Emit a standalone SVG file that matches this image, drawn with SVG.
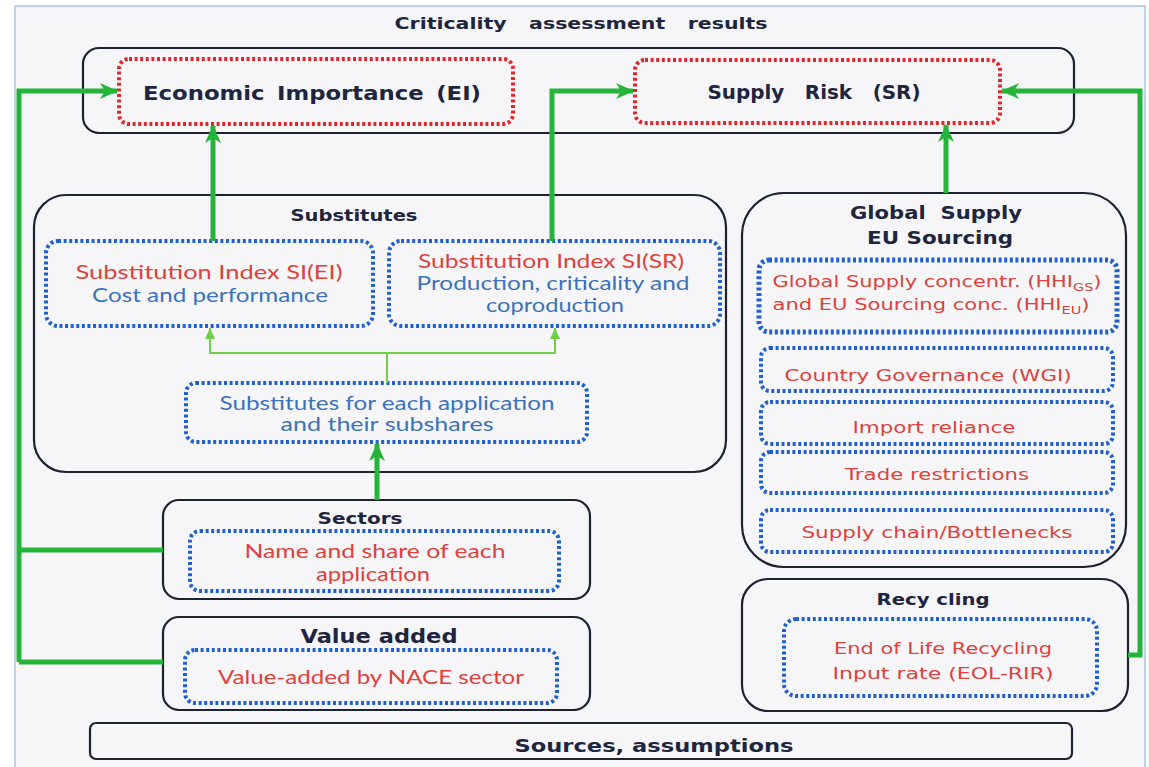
<svg xmlns="http://www.w3.org/2000/svg" width="1149" height="767" viewBox="0 0 1149 767">
<style>
.frame{fill:#f6f6f8;stroke:#a9c3e3;stroke-width:1.5}
.box{fill:none;stroke:#1d2233;stroke-width:2.2}
.red{fill:none;stroke:#e3262a;stroke-width:4;stroke-dasharray:3 2.6}
.blue{fill:none;stroke:#1f5fd0;stroke-width:4;stroke-dasharray:3 2.6}
text{text-anchor:middle}
.ttl{font-family:"DejaVu Sans",Verdana,sans-serif;font-weight:bold;fill:#1e2540}
.tr{font-family:"DejaVu Sans",Verdana,sans-serif;fill:#e0403a;font-size:16px}
.cr{font-family:Lato,"Liberation Sans",sans-serif;fill:#e0403a;font-size:19px}
.cb{font-family:Lato,"Liberation Sans",sans-serif;fill:#3a72bd;font-size:19px}
.g{fill:none;stroke:#25b43a;stroke-width:5}
.gt{fill:none;stroke:#6dd046;stroke-width:2}
</style>
<defs>
<marker id="ah" markerUnits="userSpaceOnUse" markerWidth="19" markerHeight="18" refX="17" refY="9" orient="auto">
<path d="M0,1 L18,9 L0,17 L5,9 Z" fill="#25b43a"/>
</marker>
<marker id="ahs" markerUnits="userSpaceOnUse" markerWidth="12" markerHeight="12" refX="11" refY="6" orient="auto">
<path d="M0,1 L11,6 L0,11 Z" fill="#6dd046"/>
</marker>
</defs>
<rect class="frame" x="15" y="6" width="1130" height="766"/>
<text class="ttl" x="581" y="29" font-size="16" word-spacing="12" textLength="373" lengthAdjust="spacingAndGlyphs">Criticality assessment results</text>

<g id="results">
<rect class="box" x="83" y="48" width="991" height="85" rx="16"/>
</g>
<g id="ei">
<rect class="red" x="119" y="59" width="394" height="65" rx="10"/>
<text class="ttl" x="312" y="100" font-size="20" word-spacing="4" textLength="338" lengthAdjust="spacingAndGlyphs">Economic Importance (EI)</text>
</g>
<g id="sr">
<rect class="red" x="635" y="60" width="365" height="63" rx="10"/>
<text class="ttl" x="814" y="99" font-size="19" word-spacing="13" textLength="213" lengthAdjust="spacingAndGlyphs">Supply Risk (SR)</text>
</g>

<g id="substitutes">
<rect class="box" x="34" y="195" width="692" height="277" rx="32"/>
<text class="ttl" x="354" y="221" font-size="15.5" textLength="127" lengthAdjust="spacingAndGlyphs">Substitutes</text>
</g>
<g id="si-ei">
<rect class="blue" x="46" y="241" width="327" height="85" rx="12"/>
<text class="cr" x="209" y="279" textLength="267" lengthAdjust="spacingAndGlyphs">Substitution Index SI(EI)</text>
<text class="cb" x="210" y="302" textLength="236" lengthAdjust="spacingAndGlyphs">Cost and performance</text>
</g>
<g id="si-sr">
<rect class="blue" x="389" y="241" width="331" height="85" rx="12"/>
<text class="cr" x="551" y="268" textLength="266" lengthAdjust="spacingAndGlyphs">Substitution Index SI(SR)</text>
<text class="cb" x="553" y="290" textLength="273" lengthAdjust="spacingAndGlyphs">Production, criticality  and</text>
<text class="cb" x="555" y="312" textLength="138" lengthAdjust="spacingAndGlyphs">coproduction</text>
</g>
<g id="subs-app">
<rect class="blue" x="186" y="383" width="401" height="59" rx="10"/>
<text class="cb" x="387" y="410" textLength="335" lengthAdjust="spacingAndGlyphs">Substitutes for each application</text>
<text class="cb" x="387" y="431" textLength="213" lengthAdjust="spacingAndGlyphs">and their subshares</text>
</g>

<g id="sectors">
<rect class="box" x="163" y="500" width="427" height="99" rx="16"/>
<text class="ttl" x="360" y="524" font-size="15.5" textLength="85" lengthAdjust="spacingAndGlyphs">Sectors</text>
<rect class="blue" x="190" y="531" width="369" height="60" rx="10"/>
<text class="cr" x="375" y="558" textLength="261" lengthAdjust="spacingAndGlyphs">Name and share of each</text>
<text class="cr" x="373" y="581" textLength="114" lengthAdjust="spacingAndGlyphs">application</text>
</g>

<g id="value-added">
<rect class="box" x="163" y="617" width="427" height="93" rx="16"/>
<text class="ttl" x="379" y="643" font-size="19" textLength="157" lengthAdjust="spacingAndGlyphs">Value added</text>
<rect class="blue" x="185" y="650" width="372" height="53" rx="10"/>
<text class="cr" x="371" y="684" textLength="306" lengthAdjust="spacingAndGlyphs">Value-added by NACE sector</text>
</g>

<g id="sources">
<rect class="box" x="90" y="723" width="982" height="36" rx="6"/>
<text class="ttl" x="654" y="752" font-size="18" textLength="279" lengthAdjust="spacingAndGlyphs">Sources, assumptions</text>
</g>

<g id="global-supply">
<rect class="box" x="742" y="193" width="384" height="374" rx="42"/>
<text class="ttl" x="936" y="219" font-size="17" word-spacing="6" textLength="172" lengthAdjust="spacingAndGlyphs">Global Supply</text>
<text class="ttl" x="940" y="244" font-size="17" textLength="146" lengthAdjust="spacingAndGlyphs">EU Sourcing</text>
</g>
<g id="hhi">
<rect class="blue" x="759" y="260" width="358" height="72" rx="10" style="stroke-width:5"/>
<text class="tr" x="937" y="287" textLength="329" lengthAdjust="spacingAndGlyphs">Global Supply concentr. (HHI<tspan font-size="11" dy="4">GS</tspan><tspan dy="-4">)</tspan></text>
<text class="tr" x="931" y="310" textLength="317" lengthAdjust="spacingAndGlyphs">and EU Sourcing conc. (HHI<tspan font-size="11" dy="4">EU</tspan><tspan dy="-4">)</tspan></text>
</g>
<g id="wgi">
<rect class="blue" x="761" y="348" width="352" height="43" rx="9"/>
<text class="tr" x="928" y="381" textLength="287" lengthAdjust="spacingAndGlyphs">Country Governance (WGI)</text>
</g>
<g id="import">
<rect class="blue" x="761" y="402" width="352" height="42" rx="9"/>
<text class="tr" x="934" y="433" textLength="163" lengthAdjust="spacingAndGlyphs">Import reliance</text>
</g>
<g id="trade">
<rect class="blue" x="761" y="452" width="352" height="41" rx="9"/>
<text class="tr" x="937" y="480" textLength="184" lengthAdjust="spacingAndGlyphs">Trade restrictions</text>
</g>
<g id="bottlenecks">
<rect class="blue" x="761" y="510" width="352" height="42" rx="9"/>
<text class="tr" x="937" y="538" textLength="271" lengthAdjust="spacingAndGlyphs">Supply chain/Bottlenecks</text>
</g>

<g id="recycling">
<rect class="box" x="742" y="579" width="386" height="132" rx="26"/>
<text class="ttl" x="933" y="605" font-size="16" textLength="113" lengthAdjust="spacingAndGlyphs">Recy cling</text>
<rect class="blue" x="784" y="619" width="313" height="77" rx="12"/>
<text class="tr" x="943" y="654" textLength="218" lengthAdjust="spacingAndGlyphs">End of Life  Recycling</text>
<text class="tr" x="943" y="679" textLength="221" lengthAdjust="spacingAndGlyphs">Input rate (EOL-RIR)</text>
</g>

<g id="connectors">
<polyline class="g" points="19,662 19,91 117,91" marker-end="url(#ah)"/>
<line class="g" x1="19" y1="550" x2="163" y2="550"/>
<line class="g" x1="19" y1="662" x2="163" y2="662"/>
<line class="g" x1="213" y1="241" x2="213" y2="126" marker-end="url(#ah)"/>
<polyline class="g" points="552,241 552,91 633,91" marker-end="url(#ah)"/>
<line class="g" x1="946" y1="193" x2="946" y2="125" marker-end="url(#ah)"/>
<polyline class="g" points="1128,655 1140,655 1140,91 1002,91" marker-end="url(#ah)"/>
<line class="g" x1="377" y1="500" x2="377" y2="444" marker-end="url(#ah)"/>
<line class="gt" x1="210" y1="354" x2="210" y2="328" marker-end="url(#ahs)"/>
<line class="gt" x1="555" y1="354" x2="555" y2="328" marker-end="url(#ahs)"/>
<line class="gt" x1="209" y1="353" x2="556" y2="353"/>
<line class="gt" x1="387" y1="353" x2="387" y2="383"/>
</g>
</svg>
